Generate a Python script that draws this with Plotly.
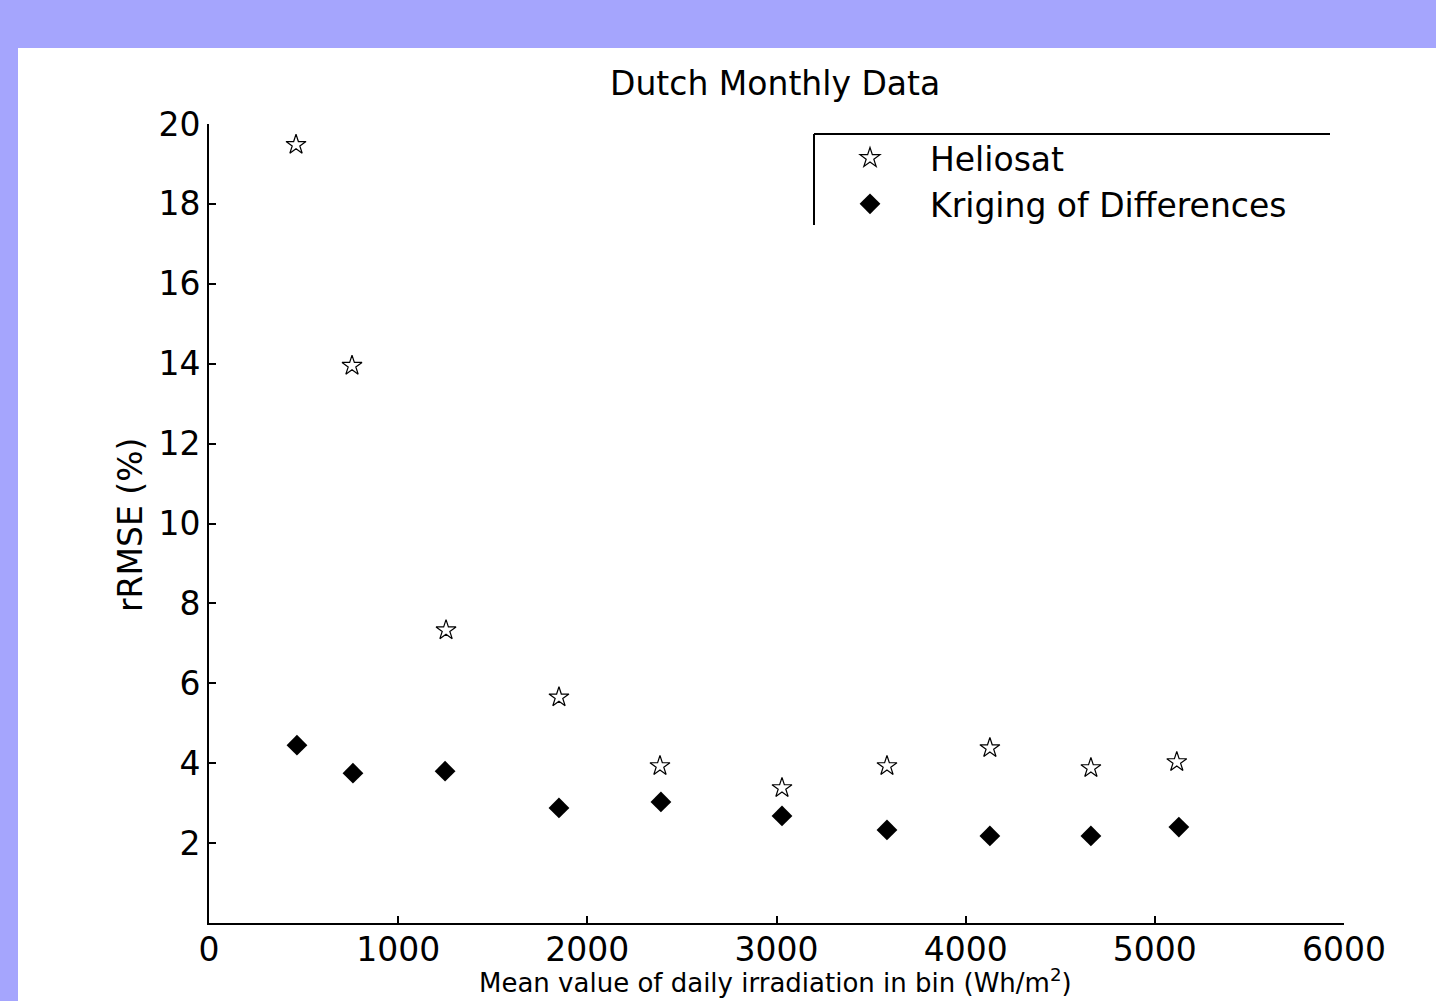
import plotly.graph_objects as go

# Data
x_helio = [460, 756, 1253, 1850, 2384, 3029, 3584, 4128, 4662, 5116]
y_helio = [19.48, 13.95, 7.33, 5.65, 3.93, 3.38, 3.93, 4.38, 3.88, 4.03]
x_krig = [465, 761, 1248, 1850, 2389, 3029, 3584, 4128, 4662, 5127]
y_krig = [4.45, 3.75, 3.80, 2.88, 3.03, 2.68, 2.33, 2.18, 2.18, 2.40]
x_ticks = [0, 1000, 2000, 3000, 4000, 5000, 6000]
y_ticks = [2, 4, 6, 8, 10, 12, 14, 16, 18, 20]

FONT = "DejaVu Sans, Liberation Sans, sans-serif"
W, H = 1436, 1001
L, R, T, B = 209, 92, 124, 78
PW, PH = W - L - R, H - T - B

def px(xp):
    return (xp - L) / PW

def py(yp):
    return (H - B - yp) / PH

fig = go.Figure()
fig.add_trace(go.Scatter(
    x=x_helio, y=y_helio, mode="markers", name="Heliosat",
    marker=dict(symbol="star-open", size=15, color="black", line=dict(width=1.2, color="black")),
))
fig.add_trace(go.Scatter(
    x=x_krig, y=y_krig, mode="markers", name="Kriging of Differences",
    marker=dict(symbol="diamond", size=16, color="black", line=dict(width=0)),
))

shapes = [
    dict(type="rect", xref="paper", yref="paper", x0=px(18), x1=px(1500), y0=py(48), y1=py(1100),
         fillcolor="white", line=dict(width=0), layer="below"),
    dict(type="line", xref="paper", yref="paper", x0=px(814), x1=px(1330), y0=py(134), y1=py(134),
         line=dict(color="black", width=2)),
    dict(type="line", xref="paper", yref="paper", x0=px(814), x1=px(814), y0=py(134), y1=py(225),
         line=dict(color="black", width=2)),
]

annotations = [
    dict(text="Dutch Monthly Data", xref="paper", yref="paper", x=px(775), y=py(83),
         xanchor="center", yanchor="middle", showarrow=False, font=dict(family=FONT, size=33, color="black")),
    dict(text="rRMSE (%)", xref="paper", yref="paper", x=px(130), y=py(525), textangle=-90,
         xanchor="center", yanchor="middle", showarrow=False, font=dict(family=FONT, size=33, color="black")),
    dict(text="Mean value of daily irradiation in bin (Wh/m<sup>2</sup>)", xref="paper", yref="paper",
         x=px(775), y=py(981), xanchor="center", yanchor="middle", showarrow=False,
         font=dict(family=FONT, size=26, color="black")),
]

fig.update_layout(
    width=W, height=H,
    margin=dict(l=L, r=R, t=T, b=B),
    paper_bgcolor="#a5a5fd",
    plot_bgcolor="white",
    font=dict(family=FONT, size=33, color="black"),
    shapes=shapes,
    annotations=annotations,
    showlegend=True,
    legend=dict(x=px(810), y=py(130), xanchor="left", yanchor="top",
                bgcolor="rgba(0,0,0,0)", borderwidth=0, itemwidth=110,
                font=dict(family=FONT, size=33, color="black"), tracegroupgap=0),
    xaxis=dict(range=[0, 6000], tickvals=x_ticks, ticktext=[str(v) for v in x_ticks],
               showline=True, linecolor="black", linewidth=2, ticks="inside", ticklen=7,
               tickcolor="black", tickwidth=1.5, showgrid=False, zeroline=False,
               ticklabelstandoff=-4,
               tickfont=dict(family=FONT, size=33, color="black")),
    yaxis=dict(range=[0, 20], tickvals=y_ticks, ticktext=[str(v) for v in y_ticks],
               showline=True, linecolor="black", linewidth=2, ticks="inside", ticklen=7,
               tickcolor="black", tickwidth=1.5, showgrid=False, zeroline=False,
               tickfont=dict(family=FONT, size=33, color="black")),
)

fig.write_html("out.html")
